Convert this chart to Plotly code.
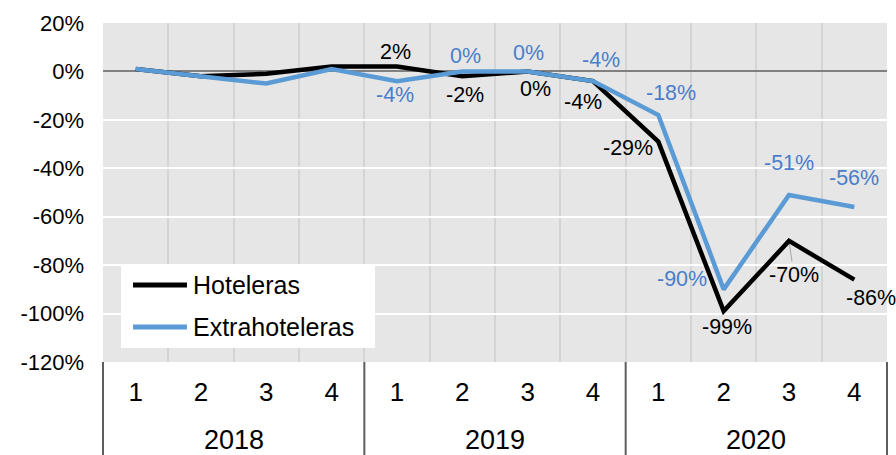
import plotly.graph_objects as go

# Quarterly change in overnight stays by type of accommodation (%)
years = ["2018", "2019", "2020"]
quarters = ["1", "2", "3", "4"]
hoteleras = [1, -2, -1, 2, 2, -2, 0, -4, -29, -99, -70, -86]
extrahoteleras = [1, -2, -5, 1, -4, 0, 0, -4, -18, -90, -51, -56]
y_ticks = [20, 0, -20, -40, -60, -80, -100, -120]
y_tick_text = ["20%", "0%", "-20%", "-40%", "-60%", "-80%", "-100%", "-120%"]
labelled_from = 4  # value labels shown from 2019 Q1 on

# one x position per (year, quarter)
x_pos = list(range(len(years) * len(quarters)))
tick_text = [q for _ in years for q in quarters]

FONT = "Liberation Sans, Arial, sans-serif"
BLACK = "#000000"
BLUE = "#5b9bd5"
BLUE_TEXT = "#4a7ecb"
LABEL_SIZE = 21.5

# pixel offsets (dx right, dy down) of each value label from its point
black_off = [(-2, -15), (3, 19), (8, 18), (-10, 21), (-30, 6), (3, 16), (5, 34), (17, 18)]
blue_off = [(-2, 14), (3, -15), (1, -18), (8, -21), (13, -22), (-42, -10), (0, -32), (0, -29)]

fig = go.Figure()
fig.add_trace(go.Scatter(x=x_pos, y=hoteleras, mode="lines", name="Hoteleras",
                         line=dict(color=BLACK, width=4.5), showlegend=False))
fig.add_trace(go.Scatter(x=x_pos, y=extrahoteleras, mode="lines", name="Extrahoteleras",
                         line=dict(color=BLUE, width=4.5), showlegend=False))

annotations = []
for k, i in enumerate(range(labelled_from, len(x_pos))):
    dx, dy = black_off[k]
    v = hoteleras[i]
    if v == -70:
        annotations.append(dict(x=x_pos[i], y=v, text=f"{v}%", showarrow=True,
                                ax=dx, ay=dy, arrowhead=0, arrowwidth=1,
                                arrowcolor="#a6a6a6", standoff=3,
                                font=dict(family=FONT, size=LABEL_SIZE, color=BLACK)))
    else:
        annotations.append(dict(x=x_pos[i], y=v, text=f"{v}%", showarrow=False,
                                xshift=dx, yshift=-dy,
                                font=dict(family=FONT, size=LABEL_SIZE, color=BLACK)))
    dx, dy = blue_off[k]
    v = extrahoteleras[i]
    annotations.append(dict(x=x_pos[i], y=v, text=f"{v}%", showarrow=False,
                            xshift=dx, yshift=-dy,
                            font=dict(family=FONT, size=LABEL_SIZE, color=BLUE_TEXT)))

# year labels under each group of quarters
nq = len(quarters)
for g, yr in enumerate(years):
    annotations.append(dict(x=g * nq + (nq - 1) / 2, xref="x", y=-0.2301, yref="paper",
                            text=yr, showarrow=False, yanchor="middle",
                            font=dict(family=FONT, size=27, color=BLACK)))

# legend box
legend_items = [("Hoteleras", BLACK, 0.2271), ("Extrahoteleras", BLUE, 0.1032)]
shapes = [dict(type="rect", xref="paper", yref="paper", x0=0.023, x1=0.347,
               y0=0.0413, y1=0.2861, fillcolor="white", line=dict(width=0), layer="above")]
for name, col, ly in legend_items:
    shapes.append(dict(type="line", xref="paper", yref="paper", x0=0.0383, x1=0.1071,
                       y0=ly, y1=ly, line=dict(color=col, width=5), layer="above"))
    annotations.append(dict(x=0.1125, xref="paper", y=ly, yref="paper", text=name,
                            showarrow=False, xanchor="left", yanchor="middle",
                            font=dict(family=FONT, size=25, color=BLACK)))

# group dividers below the plot
n_groups = len(years)
for g in range(n_groups + 1):
    shapes.append(dict(type="line", xref="paper", yref="paper", x0=g / n_groups,
                       x1=g / n_groups, y0=0, y1=-0.3,
                       line=dict(color="#5e5e5e", width=2)))

fig.update_layout(
    width=896, height=455,
    margin=dict(l=103, r=9, t=23, b=93),
    paper_bgcolor="white", plot_bgcolor="#e6e6e6",
    font=dict(family=FONT, color=BLACK),
    shapes=shapes, annotations=annotations, showlegend=False,
)
fig.update_xaxes(
    range=[-0.5, len(x_pos) - 0.5], tickmode="array", tickvals=x_pos, ticktext=tick_text,
    showgrid=False, zeroline=False, showline=False, ticks="",
    tickfont=dict(family=FONT, size=26, color=BLACK), ticklabelstandoff=12,
    minor=dict(tickmode="array", tickvals=[i - 0.5 for i in range(len(x_pos) + 1)],
               showgrid=True, gridcolor="#d4d4d4", gridwidth=1.5, ticks=""),
)
fig.update_yaxes(
    range=[-120, 20], tickmode="array", tickvals=y_ticks, ticktext=y_tick_text,
    showgrid=True, gridcolor="white", gridwidth=2,
    zeroline=True, zerolinecolor="#808080", zerolinewidth=1.5,
    showline=False, ticks="", ticklabelstandoff=18,
    tickfont=dict(family=FONT, size=22, color=BLACK),
)

fig.write_html("out.html")
